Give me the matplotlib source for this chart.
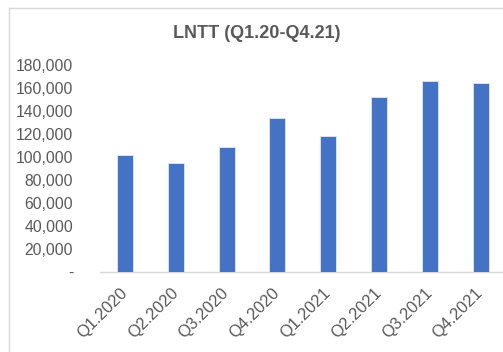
import matplotlib
matplotlib.use("Agg")
import matplotlib.pyplot as plt
from matplotlib.lines import Line2D
from matplotlib.ticker import FuncFormatter

categories = ["Q1.2020", "Q2.2020", "Q3.2020", "Q4.2020",
              "Q1.2021", "Q2.2021", "Q3.2021", "Q4.2021"]
values = [101500, 94500, 109000, 134000, 118500, 152500, 166500, 164000]
yticks = [0, 20000, 40000, 60000, 80000, 100000, 120000, 140000, 160000, 180000]
title = "LNTT (Q1.20-Q4.21)"

plt.rcParams['font.family'] = ['Liberation Sans', 'DejaVu Sans']
W, H = 503, 352
fig = plt.figure(figsize=(W / 100, H / 100), dpi=100)
fig.patch.set_facecolor("white")

left_px, right_px = 99.6, 503
bottom_px, top_px = 272, 65
ax = fig.add_axes([left_px / W, 1 - bottom_px / H, (right_px - left_px) / W, (bottom_px - top_px) / H])

x = list(range(len(categories)))
ax.bar(x, values, width=0.315, color="#4472C4", edgecolor="#E0E8F5", linewidth=0.6, zorder=3)

ax.set_xlim(-0.5, 7.5 - (506 - 503) / 50.8)
ax.set_ylim(0, 180000)
ax.set_yticks(yticks)
ax.yaxis.set_major_formatter(FuncFormatter(lambda v, p: "-" if v == 0 else f"{int(v):,}"))
ax.tick_params(axis='y', length=0, pad=19, labelsize=11.3, labelcolor="#595959")
ax.set_xticks(x)
ax.set_xticklabels(categories, rotation=45, ha='right', va='center', rotation_mode='anchor')
ax.tick_params(axis='x', length=0, pad=13, labelsize=12, labelcolor="#595959")

for s in ['top', 'right', 'left']:
    ax.spines[s].set_visible(False)
ax.spines['bottom'].set_color("#D9D9D9")
ax.spines['bottom'].set_linewidth(1.0)

fig.text(257 / W, 1 - 33 / H, title, ha='center', va='center', fontsize=13,
         fontweight='bold', color="#595959")

# chart area border (cropped)
fig.add_artist(Line2D([8.5 / W, 8.5 / W], [0, 1 - 8 / H], transform=fig.transFigure, color="#D9D9D9", lw=1))
fig.add_artist(Line2D([8.5 / W, 1], [1 - 8 / H, 1 - 8 / H], transform=fig.transFigure, color="#D9D9D9", lw=1))

fig.savefig("out.png", dpi=100)
